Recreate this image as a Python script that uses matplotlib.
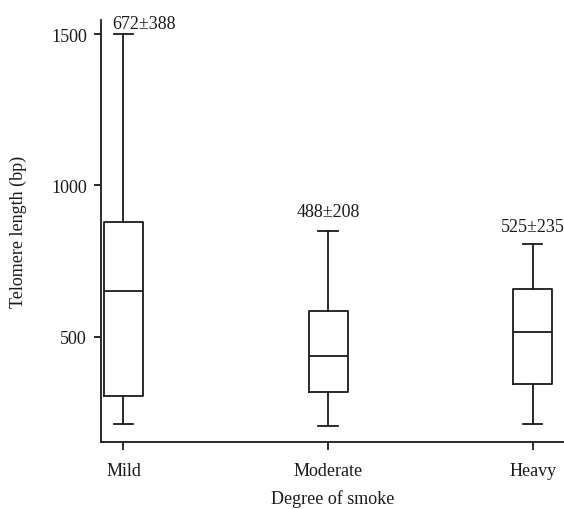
import matplotlib
matplotlib.use('Agg')
import matplotlib.pyplot as plt

# box statistics (bp)
groups = ['Mild', 'Moderate', 'Heavy']
whislo = [211, 204, 211]
q1 = [305, 316, 343]
med = [652, 437, 517]
q3 = [878, 586, 658]
whishi = [1500, 848, 805]
labels = ['672\u00b1388', '488\u00b1208', '525\u00b1235']
label_dx = [0.1, 0.0, 0.0]
label_y = [1521, 900, 850]

plt.rcParams['font.family'] = ['Liberation Serif', 'DejaVu Serif']
col = '#1a1a1a'
fs = 13

fig = plt.figure(figsize=(5.64, 5.10), dpi=100)
ax = fig.add_axes([0.179, 0.1308, 0.821, 0.828])

stats = []
for i in range(len(groups)):
    stats.append({'whislo': whislo[i], 'q1': q1[i], 'med': med[i],
                  'q3': q3[i], 'whishi': whishi[i], 'fliers': []})

lp = dict(color=col, linewidth=1.3)
ax.bxp(stats, positions=range(len(groups)), widths=0.19, showfliers=False,
       boxprops=lp, whiskerprops=lp, capprops=lp,
       medianprops=dict(color=col, linewidth=1.3))

for i in range(len(groups)):
    ax.text(i + label_dx[i], label_y[i], labels[i], ha='center', va='baseline',
            fontsize=fs, color=col)

ax.set_xlim(-0.11, 2.153)
ax.set_ylim(151, 1547)
ax.set_yticks([500, 1000, 1500])
ax.set_xticks(range(len(groups)))
ax.set_xticklabels(groups)

for s in ['top', 'right']:
    ax.spines[s].set_visible(False)
for s in ['left', 'bottom']:
    ax.spines[s].set_color(col)
    ax.spines[s].set_linewidth(1.3)

ax.tick_params(axis='y', length=5, width=1.3, color=col, pad=5, labelsize=fs, labelcolor=col)
ax.tick_params(axis='x', length=6, width=1.3, color=col, pad=8, labelsize=fs, labelcolor=col)

ax.set_ylabel('Telomere length (bp)', fontsize=fs, color=col)
ax.set_xlabel('Degree of smoke', fontsize=fs, color=col)
ax.yaxis.set_label_coords(-0.16, 0.5)
ax.xaxis.set_label_coords(0.5, -0.11)

fig.savefig('out.png', dpi=100)
